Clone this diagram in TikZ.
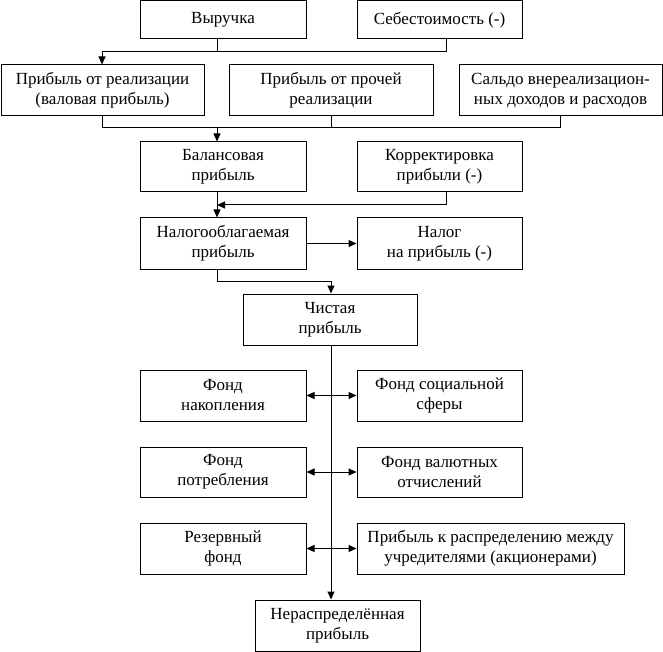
\documentclass[tikz,border=0pt]{standalone}
\usepackage{fontspec}
\setmainfont{Liberation Serif}
\usetikzlibrary{arrows.meta}
\begin{document}
\begin{tikzpicture}[x=1pt,y=-1pt,
  box/.style={draw, line width=1pt, inner sep=0pt, align=center,
    font=\fontsize{17}{20}\selectfont, minimum height=51pt},
  conn/.style={line width=1pt},
  arr/.style={conn, -{Triangle[length=8pt,width=7pt]}},
  darr/.style={conn, {Triangle[length=8pt,width=7pt]}-{Triangle[length=8pt,width=7pt]}}]
\useasboundingbox (0,0) rectangle (663,652);
% row 1
\node[box, minimum width=166pt, minimum height=38pt] (vyr) at (223,20) {Выручка};
\node[box, minimum width=165pt, minimum height=38pt] (seb) at (439.5,20) {Себестоимость (-)};
% row 2
\node[box, minimum width=203pt] (pr1) at (102.5,90.5) {Прибыль от реализации\\(валовая прибыль)};
\node[box, minimum width=204pt] (pr2) at (331,90.5) {Прибыль от прочей\\реализации};
\node[box, minimum width=203pt] (sal) at (560.5,90.5) {Сальдо внереализацион-\\ных доходов и расходов};
% row 3
\node[box, minimum width=166pt, minimum height=50pt] (bal) at (223,167) {Балансовая\\прибыль};
\node[box, minimum width=165pt, minimum height=50pt] (kor) at (439.5,167) {Корректировка\\прибыли (-)};
% row 4
\node[box, minimum width=166pt] (nal) at (223,243.5) {Налогооблагаемая\\прибыль};
\node[box, minimum width=165pt] (tax) at (439.5,243.5) {Налог\\на прибыль (-)};
% row 5
\node[box, minimum width=174pt] (chi) at (330,319.5) {Чистая\\прибыль};
% funds
\node[box, minimum width=166pt] (fn) at (223,395.5) {Фонд\\накопления};
\node[box, minimum width=165pt] (fs) at (439.5,395.5) {Фонд социальной\\сферы};
\node[box, minimum width=166pt, minimum height=50pt] (fp) at (223,472) {Фонд\\потребления};
\node[box, minimum width=165pt, minimum height=50pt] (fv) at (439.5,472) {Фонд валютных\\отчислений};
\node[box, minimum width=166pt] (rf) at (223,548.5) {Резервный\\фонд};
\node[box, minimum width=267pt] (pd) at (490.5,548.5) {Прибыль к распределению между\\учредителями (акционерами)};
\node[box, minimum width=165pt] (ner) at (337.5,625.5) {Нераспределённая\\прибыль};
% junction coordinates
\coordinate (h1a) at (102,52);
\coordinate (h1v) at (217,52);
\coordinate (h1b) at (446,52);
\coordinate (h2a) at (102,128);
\coordinate (h2c) at (217,128);
\coordinate (h2b) at (560,128);
\coordinate (h3a) at (446,205);
\coordinate (h3b) at (217,205);
\coordinate (h4a) at (217,281);
\coordinate (h4b) at (331,281);
% connectors
\draw[conn] (vyr.south -| h1v) -- (h1v);
\draw[conn] (seb.south -| h1b) -- (h1b) -- (h1a);
\draw[arr] (h1a) -- (pr1.north -| h1a);
\draw[conn] (pr1.south -| h2a) -- (h2a) -- (h2b) -- (sal.south -| h2b);
\draw[conn] (pr2.south) -- (pr2.south |- h2a);
\draw[arr] (h2c) -- (bal.north -| h2c);
\draw[arr] (bal.south -| h2c) -- (nal.north -| h2c);
\draw[arr] (kor.south -| h3a) -- (h3a) -- (h3b);
\draw[arr] (nal) -- (tax);
\draw[arr] (nal.south -| h4a) -- (h4a) -- (h4b) -- (chi.north -| h4b);
\draw[arr] (chi.south -| h4b) -- (ner.north -| h4b);
\draw[darr] (fn) -- (fs);
\draw[darr] (fp) -- (fv);
\draw[darr] (rf) -- (pd);
\end{tikzpicture}
\end{document}
